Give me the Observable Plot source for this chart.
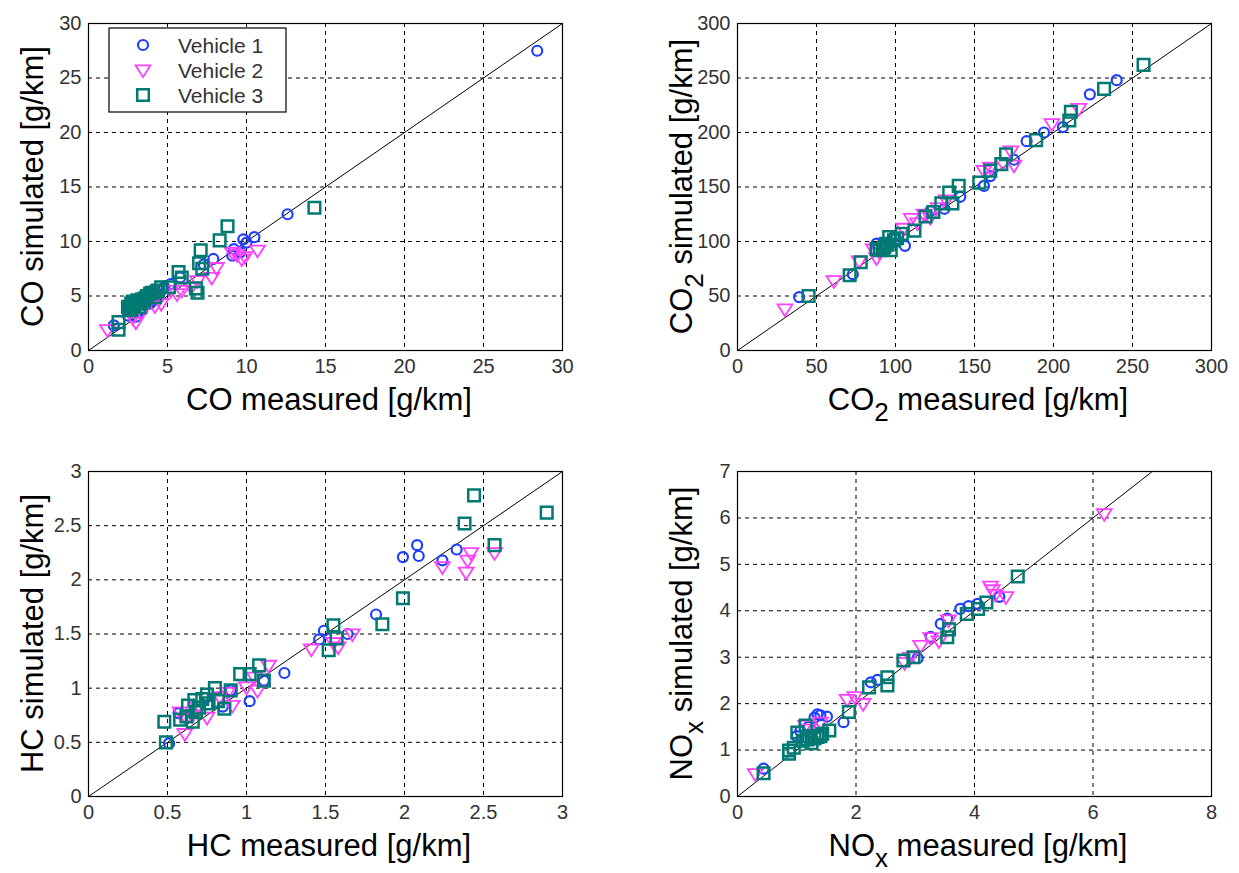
<!DOCTYPE html>
<html><head><meta charset="utf-8">
<script src="https://cdn.jsdelivr.net/npm/d3@7"></script>
<script src="https://cdn.jsdelivr.net/npm/@observablehq/plot@0.6"></script>
<style>
body{margin:0;background:#fff;font-family:"Liberation Sans",Arial,sans-serif;}
#wrap{position:relative;width:1239px;height:873px;overflow:hidden;background:#fff;}
.panel{position:absolute;}
</style></head><body><div id="wrap"></div>
<script>
const vehicles = ["Vehicle 1", "Vehicle 2", "Vehicle 3"];
const colors = ["#1f3fff", "#ff40ff", "#007a72"];

// CO [measured, simulated] g/km
const coV1 = [[28.4,27.5],[12.6,12.5],[9.8,10.2],[10.5,10.4],[10.0,9.9],[9.2,9.3],[9.1,8.7],[9.6,9.0],[7.9,8.4],[7.3,7.9],[5.8,6.7],[5.2,6.1],[4.8,5.8],[4.4,4.8],[3.9,4.3],[3.4,3.7],[3.0,3.1],[1.6,2.3],[3.6,4.2],[4.1,4.6],[2.5,3.2]];
const coV2 = [[1.2,1.9],[3.0,2.6],[10.7,9.2],[9.7,8.4],[9.4,8.8],[9.1,9.0],[9.9,8.6],[7.8,6.7],[8.1,7.6],[6.9,6.4],[6.5,5.8],[5.6,5.2],[5.2,5.5],[4.6,4.3],[3.9,4.6],[3.3,3.4],[2.8,3.0],[4.2,4.1],[5.9,5.5]];
const coV3 = [[14.3,13.1],[8.8,11.4],[8.3,10.1],[7.1,9.2],[7.0,8.0],[7.2,7.5],[6.8,5.7],[6.9,5.3],[5.7,7.2],[5.9,6.7],[5.1,5.8],[4.6,5.8],[4.4,5.5],[4.2,4.9],[3.9,5.2],[3.7,5.0],[3.1,4.6],[3.3,4.3],[2.7,4.3],[2.7,3.7],[2.5,4.0],[2.9,4.1],[3.5,4.5],[1.9,2.6],[1.9,1.9],[3.0,4.4],[3.2,4.0],[2.8,4.5],[3.6,4.8],[4.0,5.3],[4.3,5.4],[2.6,3.9],[3.4,4.7]];

// CO2 [measured, simulated] g/km
const co2V1 = [[240,248],[223,235],[206,205],[194,200],[183,192],[175,175],[160,160],[156,151],[141,141],[131,130],[122,128],[106,96],[99,104],[88,98],[73,70],[39,49]];
const co2V2 = [[30,38],[61,64],[216,222],[199,208],[173,183],[168,172],[175,170],[160,168],[156,165],[122,122],[118,125],[110,121],[114,117],[105,112],[86,93],[88,85],[77,82],[90,90],[96,98],[127,131],[132,138]];
const co2V3 = [[257,262],[232,240],[211,219],[210,211],[189,193],[170,180],[167,171],[160,165],[153,154],[140,151],[134,145],[136,135],[129,135],[124,127],[119,123],[112,110],[104,107],[96,104],[94,98],[92,93],[97,92],[88,93],[78,81],[71,69],[45,50],[93,95],[95,97],[90,92],[99,101],[101,103]];

// HC [measured, simulated] g/km
const hcV1 = [[2.08,2.32],[2.09,2.22],[1.99,2.21],[2.33,2.28],[2.24,2.18],[1.82,1.68],[1.49,1.53],[1.46,1.45],[1.64,1.50],[1.24,1.14],[1.11,1.07],[1.02,0.88],[0.90,0.98],[0.85,0.83],[0.74,0.91],[0.66,0.77],[0.57,0.77],[0.51,0.49]];
const hcV2 = [[2.57,2.25],[2.42,2.25],[2.40,2.18],[2.39,2.07],[2.24,2.12],[1.41,1.36],[1.67,1.50],[1.58,1.38],[1.55,1.42],[1.14,1.21],[1.05,1.10],[1.07,0.98],[1.00,1.01],[0.91,0.84],[0.83,0.92],[0.75,0.73],[0.69,0.83],[0.58,0.78],[0.61,0.58],[0.62,0.72],[0.66,0.75],[0.88,0.96]];
const hcV3 = [[2.44,2.78],[2.90,2.62],[2.38,2.52],[2.57,2.32],[1.99,1.83],[1.86,1.59],[1.55,1.58],[1.57,1.46],[1.52,1.35],[1.08,1.21],[0.96,1.13],[1.02,1.13],[1.11,1.07],[0.80,1.00],[0.90,0.98],[0.75,0.94],[0.67,0.89],[0.63,0.84],[0.76,0.86],[0.86,0.81],[0.68,0.78],[0.62,0.74],[0.58,0.71],[0.66,0.69],[0.48,0.69],[0.49,0.50],[0.70,0.82],[0.72,0.90],[0.82,0.88]];

// NOx [measured, simulated] g/km
const noxV1 = [[0.44,0.60],[3.76,4.04],[3.90,4.10],[3.54,3.83],[3.43,3.72],[3.26,3.44],[3.04,2.98],[2.25,2.46],[2.36,2.51],[1.35,1.77],[1.51,1.72],[1.79,1.60],[1.06,1.41],[4.42,4.30],[4.05,4.15],[1.40,1.75],[1.30,1.70],[1.00,1.30],[1.20,1.50]];
const noxV2 = [[6.19,6.09],[4.27,4.53],[4.30,4.45],[4.35,4.35],[4.53,4.30],[3.56,3.80],[3.26,3.42],[3.09,3.25],[3.40,3.35],[2.92,3.00],[2.82,2.88],[1.85,2.09],[1.98,2.15],[2.12,2.00],[1.40,1.60],[1.15,1.53],[0.30,0.49],[1.20,1.45]];
const noxV3 = [[4.73,4.74],[4.20,4.18],[4.06,4.04],[3.87,3.93],[3.54,3.43],[3.57,3.60],[2.97,3.00],[2.80,2.93],[2.53,2.57],[2.53,2.39],[2.22,2.35],[1.88,1.82],[1.15,1.53],[1.35,1.28],[1.18,1.23],[1.01,1.38],[0.87,0.99],[0.87,0.92],[1.43,1.35],[1.55,1.42],[0.44,0.50],[1.20,1.30],[1.30,1.25],[1.10,1.20],[1.25,1.15],[1.40,1.30],[0.95,1.05]];

const coTicks = [0,5,10,15,20,25,30];
const co2Ticks = [0,50,100,150,200,250,300];
const hcTicks = [0,0.5,1,1.5,2,2.5,3];
const noxXTicks = [0,2,4,6,8];
const noxYTicks = [0,1,2,3,4,5,6,7];

const FONT = "'Liberation Sans', Arial, Helvetica, sans-serif";

const sqSym = {draw(ctx, size){ const r = Math.sqrt(size/Math.PI); ctx.moveTo(-r,-r); ctx.lineTo(r,-r); ctx.lineTo(r,r); ctx.lineTo(-r,r); ctx.closePath(); }};
const triDown = {draw(ctx, size){ const r = Math.sqrt(size/Math.PI); const w = r*1.2; ctx.moveTo(-w,-r*0.75); ctx.lineTo(w,-r*0.75); ctx.lineTo(0,r*1.15); ctx.closePath(); }};
const circSym = {draw(ctx, size){ const r = Math.sqrt(size/Math.PI); ctx.moveTo(r,0); ctx.arc(0,0,r,0,2*Math.PI); }};

const symStyles = [
  {symbol: circSym, r: 5, strokeWidth: 2.2},
  {symbol: triDown, r: 6.2, strokeWidth: 1.8},
  {symbol: sqSym, r: 5.8, strokeWidth: 2.5}
];

const panels = [
  {left: 0, top: 0, width: 600, height: 430, series: [coV1, coV2, coV3], xTicks: coTicks, yTicks: coTicks,
   xl: [["CO measured [g/km]", false]], yl: [["CO simulated [g/km]", false]], legend: true},
  {left: 649, top: 0, width: 590, height: 430, series: [co2V1, co2V2, co2V3], xTicks: co2Ticks, yTicks: co2Ticks,
   xl: [["CO", false], ["2", true], [" measured [g/km]", false]], yl: [["CO", false], ["2", true], [" simulated [g/km]", false]]},
  {left: 0, top: 448, width: 600, height: 425, series: [hcV1, hcV2, hcV3], xTicks: hcTicks, yTicks: hcTicks,
   xl: [["HC measured [g/km]", false]], yl: [["HC simulated [g/km]", false]]},
  {left: 649, top: 448, width: 590, height: 425, series: [noxV1, noxV2, noxV3], xTicks: noxXTicks, yTicks: noxYTicks,
   xl: [["NO", false], ["x", true], [" measured [g/km]", false]], yl: [["NO", false], ["x", true], [" simulated [g/km]", false]]}
];

const wrap = document.getElementById("wrap");
const mL = 88, mT = 23, fW = 474;

function addLabel(g, parts){
  const t = g.append("text").attr("font-family", FONT).attr("font-size", 31).attr("fill", "#000");
  parts.forEach(([s, sub]) => {
    if (sub) t.append("tspan").attr("dy", 11).attr("font-size", 26).text(s);
    else { const ts = t.append("tspan").text(s); if (t.node().childNodes.length > 1) ts.attr("dy", -11); }
  });
  return t;
}

panels.forEach(p => {
  const fH = (p.top === 0) ? 327 : 325;
  const mR = p.width - mL - fW;
  const mB = p.height - mT - fH;
  const xmax = p.xTicks[p.xTicks.length-1], ymax = p.yTicks[p.yTicks.length-1];
  const m = Math.min(xmax, ymax);
  const diag = [[0,0],[m,m]];
  const marks = [
    Plot.ruleX(p.xTicks.slice(1,-1), {stroke: "#000", strokeWidth: 1, strokeDasharray: "4,4"}),
    Plot.ruleY(p.yTicks.slice(1,-1), {stroke: "#000", strokeWidth: 1, strokeDasharray: "4,4"}),
    Plot.line(diag, {x: d => d[0], y: d => d[1], stroke: "#000", strokeWidth: 1}),
    Plot.frame({stroke: "#000", strokeWidth: 1.2})
  ];
  p.series.forEach((data, i) => {
    marks.push(Plot.dot(data, {x: d => d[0], y: d => d[1], symbol: symStyles[i].symbol, r: symStyles[i].r,
      stroke: colors[i], strokeWidth: symStyles[i].strokeWidth, fill: "none"}));
  });
  const svg = Plot.plot({
    width: p.width, height: p.height,
    marginLeft: mL, marginRight: mR, marginTop: mT, marginBottom: mB,
    style: {fontSize: "20px", fontFamily: FONT, color: "#333", background: "transparent", overflow: "visible"},
    x: {domain: [0, xmax], ticks: p.xTicks, tickSize: 0, tickPadding: 8, label: null, tickFormat: d => String(d)},
    y: {domain: [0, ymax], ticks: p.yTicks, tickSize: 0, tickPadding: 7, label: null, tickFormat: d => String(d)},
    marks
  });
  svg.classList.add("panel");
  svg.style.left = p.left + "px";
  svg.style.top = p.top + "px";
  wrap.appendChild(svg);
  const g = d3.select(svg).append("g");
  const fb = mT + fH;
  addLabel(g, p.xl).attr("text-anchor", "middle").attr("x", mL + fW/2 + 4).attr("y", fb + 60);
  addLabel(g, p.yl).attr("text-anchor", "middle").attr("transform", `translate(43,${mT + fH/2}) rotate(-90)`);
  if (p.legend) {
    const lg = d3.select(svg).append("g").attr("text-anchor", "start");
    lg.append("rect").attr("x", 109).attr("y", 28).attr("width", 177).attr("height", 84)
      .attr("fill", "#fff").attr("stroke", "#000").attr("stroke-width", 1.2);
    vehicles.forEach((v, i) => {
      const cy = 45 + i*25;
      const size = Math.PI * symStyles[i].r * symStyles[i].r;
      lg.append("path").attr("d", d3.symbol(symStyles[i].symbol, size)()).attr("transform", `translate(143,${cy})`)
        .attr("fill", "none").attr("stroke", colors[i]).attr("stroke-width", symStyles[i].strokeWidth);
      lg.append("text").attr("x", 178).attr("y", cy).attr("dy", "0.36em").attr("text-anchor", "start")
        .attr("font-family", FONT).attr("font-size", 21).attr("fill", "#333").text(v);
    });
  }
});
</script></body></html>
